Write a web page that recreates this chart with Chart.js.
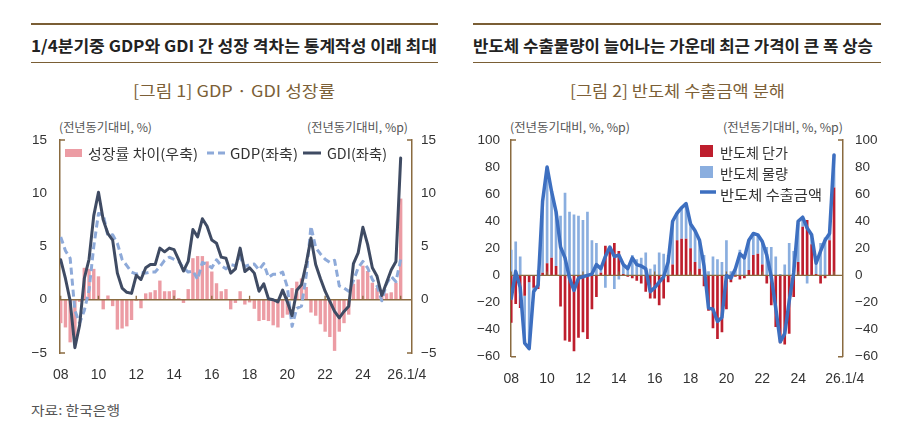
<!DOCTYPE html>
<html><head><meta charset="utf-8">
<script src="https://cdn.jsdelivr.net/npm/chart.js@4.4.1/dist/chart.umd.min.js"></script>
<style>
html,body{margin:0;padding:0;background:#fff;}
body{width:922px;height:444px;position:relative;overflow:hidden;font-family:'Noto Sans CJK KR',sans-serif;}
.t{position:absolute;white-space:nowrap;line-height:1;transform-origin:0 50%;display:inline-block;}
.rule{position:absolute;background:#7a5e35;}
canvas{position:absolute;}
.sw{position:absolute;}
</style></head><body>
<!-- Panel 1 header -->
<div class="rule" style="left:31px;top:23px;width:407px;height:2px"></div>
<div class="t" data-w="406" style="left:31px;top:37px;font-size:16px;font-weight:700;color:#222">1/4분기중 GDP와 GDI 간 성장 격차는 통계작성 이래 최대</div>
<div class="rule" style="left:31px;top:62px;width:407px;height:1px"></div>
<div class="t" data-w="202" style="left:133px;top:82px;font-size:16px;color:#7c5f37">[그림 1] GDP · GDI 성장률</div>
<div class="t" data-w="93" style="left:59px;top:121px;font-size:12px;color:#555">(전년동기대비, %)</div>
<div class="t" data-w="101" style="left:307px;top:121px;font-size:12px;color:#555">(전년동기대비, %p)</div>
<!-- Panel 2 header -->
<div class="rule" style="left:473px;top:23px;width:408px;height:2px"></div>
<div class="t" data-w="400" style="left:473px;top:37px;font-size:16px;font-weight:700;color:#222">반도체 수출물량이 늘어나는 가운데 최근 가격이 큰 폭 상승</div>
<div class="rule" style="left:473px;top:62px;width:408px;height:1px"></div>
<div class="t" data-w="215" style="left:570px;top:82px;font-size:16px;color:#7c5f37">[그림 2] 반도체 수출금액 분해</div>
<div class="t" data-w="120" style="left:510px;top:121px;font-size:12px;color:#555">(전년동기대비, %, %p)</div>
<div class="t" data-w="120" style="left:723px;top:121px;font-size:12px;color:#555">(전년동기대비, %, %p)</div>

<canvas id="c1" width="460" height="300" style="left:0;top:100px;width:460px;height:300px"></canvas>
<canvas id="c2" width="462" height="300" style="left:460px;top:100px;width:462px;height:300px"></canvas>

<!-- Legend 1 -->
<div class="sw" style="left:65px;top:149px;width:17px;height:8px;background:#ec9ca4"></div>
<div class="t" data-w="110" style="left:88px;top:146px;font-size:14px;color:#333">성장률 차이(우축)</div>
<svg class="sw" style="left:206px;top:148px" width="20" height="10"><line x1="1" y1="5" x2="19" y2="5" stroke="#8eaad9" stroke-width="3" stroke-dasharray="7,4"/></svg>
<div class="t" data-w="68" style="left:230px;top:146px;font-size:14px;color:#333">GDP(좌축)</div>
<svg class="sw" style="left:302px;top:148px" width="20" height="10"><line x1="1" y1="5" x2="19" y2="5" stroke="#3f4b63" stroke-width="3"/></svg>
<div class="t" data-w="60" style="left:327px;top:146px;font-size:14px;color:#333">GDI(좌축)</div>
<!-- Legend 2 -->
<div class="sw" style="left:700px;top:145px;width:13px;height:12px;background:#be1e2d"></div>
<div class="t" data-w="68" style="left:720px;top:145px;font-size:14px;color:#333">반도체 단가</div>
<div class="sw" style="left:700px;top:166px;width:13px;height:12px;background:#8aaedf"></div>
<div class="t" data-w="68" style="left:720px;top:166px;font-size:14px;color:#333">반도체 물량</div>
<svg class="sw" style="left:699px;top:187px" width="18" height="10"><line x1="1" y1="5" x2="17" y2="5" stroke="#3d6fc0" stroke-width="3.5"/></svg>
<div class="t" data-w="102" style="left:720px;top:187px;font-size:14px;color:#333">반도체 수출금액</div>

<div class="t" data-w="89" style="left:31px;top:403px;font-size:13px;color:#555">자료: 한국은행</div>

<script>
// ---------- DATA ----------
const categories = [];
for (let y = 2008; y <= 2026; y++) for (let q = 1; q <= 4; q++) { if (y === 2026 && q > 1) break; categories.push(y + 'Q' + q); }

const xTickLabels = ['08','10','12','14','16','18','20','22','24','26.1/4'];
const xTickCats = ['2008Q1','2010Q1','2012Q1','2014Q1','2016Q1','2018Q1','2020Q1','2022Q1','2024Q1','2026Q1'];

// Chart 1: GDP, GDI growth (%, left) and gap (%p, right)
const gdp = [5.9, 4.6, 3.9, -1.0, -2.2, -1.0, 0.9, 5.0, 8.1, 8.0,
             6.0, 6.1, 5.3, 3.8, 3.2, 2.6, 2.4, 2.6, 2.5, 2.6,
             2.6, 3.1, 3.7, 4.0, 3.8, 3.6, 3.0, 2.6, 2.7, 1.9,
             3.5, 3.3, 3.0, 3.75, 3.2, 2.9, 3.3, 3.2, 4.0, 3.1,
             3.3, 3.35, 2.8, 3.4, 2.1, 2.4, 2.4, 2.6, 1.2, -2.5,
             -0.8, -0.6, 2.3, 6.9, 4.9, 4.3, 3.8, 3.5, 3.7, 1.3,
             1.1, 0.8, 1.8, 3.0, 3.6, 3.0, 1.9, 1.3, -0.1, 1.5,
             2.2, 1.7, 3.8];
const gdi = [3.75, 2.0, -0.1, -4.5, -2.4, 2.0, 3.8, 7.9, 10.1, 7.5,
             6.2, 5.6, 2.5, 1.1, 0.7, 0.6, 2.3, 1.9, 3.0, 3.3,
             3.3, 4.85, 4.5, 4.85, 4.7, 3.75, 2.7, 3.6, 6.6, 5.9,
             7.6, 6.9, 5.6, 5.3, 4.0, 3.9, 2.5, 2.9, 4.85, 2.65,
             3.0, 2.5, 0.8, 1.5, 0.1, 0.0, -0.2, 0.9, -0.2, -1.5,
             0.9, 1.4, 3.4, 5.8, 3.3, 2.0, 0.8, -0.15, -1.1, -1.7,
             -1.1, -0.6, 3.4, 4.4, 6.8, 5.2, 3.0, 2.2, 0.4, 1.6,
             2.8, 3.6, 13.3];
const gap = [-2.2, -2.6, -4.0, -3.5, -0.2, 3.0, 2.9, 2.9, 2.2, -0.9,
             0.4, -0.6, -2.8, -2.7, -2.5, -1.9, -0.1, -0.8, 0.6, 0.7,
             0.9, 1.8, 0.8, 0.8, 0.9, 0.15, -0.3, 1.0, 3.9, 4.1,
             4.1, 3.6, 2.65, 1.55, 0.8, 1.0, -0.9, -0.3, 0.8, -0.45,
             -0.25, -0.85, -2.0, -1.9, -2.0, -2.4, -2.6, -1.7, -1.4, 1.1,
             1.7, 2.0, 1.2, -1.2, -1.5, -2.3, -3.0, -3.5, -4.8, -3.0,
             -2.2, -1.4, 1.5, 1.9, 3.2, 2.7, 1.6, 1.1, 0.6, 0.6,
             0.7, 1.6, 9.5];
const yTicks1 = [-5, 0, 5, 10, 15];

// Chart 2: semiconductor exports (%, %p)
const chipPrice = [-35, -21, -24, -15, -5, -9, -10, 2, 9, 13,
                   7, -23, -48, -49, -56, -46, -42, -47, -25, -16,
                   2, 22, 19, 24, 18, 1, -1, -2, -4, -6,
                   -12, -17, -17, -22, -17, -5, 8, 26, 27, 27,
                   20, 10, 5, -8, -26, -39, -47, -42, -25, -5,
                   -1, -3, -2, 4, 15, 16, 8, -6, -22, -38,
                   -50, -51, -43, -16, 10, 36, 41, 23, 1, -6,
                   -2, 26, 65];
const chipVolume = [19, 25, 14, -35, -49, -3, 4, 53, 71, 49,
                    40, 44, 61, 47, 45, 44, 41, 47, 26, 24,
                    3, -9, 2, -10, -3, 7, 6, 15, 12, 13,
                    17, 5, 8, 17, 16, 15, 32, 20, 23, 26,
                    18, 23, 21, 15, 3, 14, 12, 10, 26, 3,
                    6, 19, 15, 22, 16, 14, 17, 21, 21, 14,
                    1, 8, 24, 18, 30, 7, -6, 7, 8, 24,
                    28, 5, 24];
const chipValue = [-17, 3, -9, -50, -54, -12, -7, 55, 80, 62,
                   47, 21, 13, -2, -11, -2, -1, 0, 1, 8,
                   5, 14, 21, 14, 15, 8, 5, 13, 8, 7,
                   5, -12, -9, -5, -1, 10, 40, 46, 50, 53,
                   38, 33, 26, 7, -24, -25, -34, -31, 0, -2,
                   5, 16, 13, 26, 31, 30, 25, 15, -1, -24,
                   -49, -43, -19, 2, 40, 43, 35, 30, 9, 18,
                   26, 31, 89];
const yTicks2 = [-60, -40, -20, 0, 20, 40, 60, 80, 100];

// ---------- STYLE / HELPERS ----------
const AXIS = '#8a6b40';
const TICKFONT = {family: "'Liberation Sans','Noto Sans CJK KR',sans-serif", size: 13.5};
const XFONT = {family: "'Liberation Sans','Noto Sans CJK KR',sans-serif", size: 14};
const fmt = v => (v < 0 ? '\u2212' + Math.abs(v) : '' + v);
const pts = arr => arr.map((v, i) => ({x: i, y: v}));
const xMarks = xTickCats.map(c => categories.indexOf(c));

const decor = {
  id: 'decor',
  afterDatasetDraw(chart, args, opts) {
    if (args.index !== opts.afterIndex) return;
    const {ctx, chartArea: a, scales} = chart;
    const y0 = scales.y.getPixelForValue(0);
    ctx.save();
    ctx.strokeStyle = AXIS; ctx.lineWidth = 1.3;
    ctx.beginPath();
    ctx.moveTo(a.left, y0); ctx.lineTo(a.right, y0);
    xMarks.forEach(v => { const x = scales.x.getPixelForValue(v); ctx.moveTo(x, y0); ctx.lineTo(x, y0 - 4); });
    ctx.stroke();
    ctx.restore();
  },
  afterDraw(chart) {
    const {ctx, chartArea: a} = chart;
    ctx.save();
    ctx.strokeStyle = AXIS; ctx.lineWidth = 1.5;
    ctx.beginPath();
    [a.top, a.bottom].forEach(y => {
      ctx.moveTo(a.left, y); ctx.lineTo(a.left + 5, y);
      ctx.moveTo(a.right, y); ctx.lineTo(a.right - 5, y);
    });
    ctx.stroke();
    ctx.restore();
  }
};

function xScale(min, max, lastShift, pad) {
  return {
    type: 'linear', min, max, offset: false, stacked: true,
    grid: {display: false, drawTicks: false}, border: {display: false},
    afterBuildTicks(s) { s.ticks = xMarks.map((v, k) => ({value: k === xMarks.length - 1 ? v + lastShift : v})); },
    afterFit(s) { s.height = 40; },
    ticks: {autoSkip: false, maxRotation: 0, padding: pad, color: '#333', font: XFONT,
            callback: (v, k) => xTickLabels[k]}
  };
}
function yScale(pos, min, max, ticksArr, width, pad, stacked) {
  return {
    type: 'linear', position: pos, min, max, stacked: !!stacked,
    grid: {display: false, drawTicks: false},
    border: {display: true, color: AXIS, width: 1.5},
    afterBuildTicks(s) { s.ticks = ticksArr.map(v => ({value: v})); },
    afterFit(s) { s.width = width; },
    ticks: {padding: pad, color: '#333', font: TICKFONT, callback: v => fmt(v)}
  };
}

// ---------- CHART 1 ----------
new Chart(document.getElementById('c1'), {
  type: 'bar',
  data: {
    datasets: [
      {type: 'line', label: 'GDI(좌축)', data: pts(gdi), yAxisID: 'y', borderColor: '#3f4b63', borderWidth: 3,
       pointRadius: 0, tension: 0, borderJoinStyle: 'round', borderCapStyle: 'round'},
      {type: 'line', label: 'GDP(좌축)', data: pts(gdp), yAxisID: 'y', borderColor: '#8eaad9', borderWidth: 3,
       borderDash: [7, 4], pointRadius: 0, tension: 0, borderJoinStyle: 'round'},
      {type: 'bar', label: '성장률 차이(우축)', data: pts(gap), yAxisID: 'y2', backgroundColor: '#ec9ca4',
       barPercentage: 0.72, categoryPercentage: 1}
    ]
  },
  options: {
    responsive: false, animation: false, devicePixelRatio: 1,
    layout: {padding: {top: 40, left: 15, right: 8, bottom: 7}},
    plugins: {legend: {display: false}, tooltip: {enabled: false}, decor: {afterIndex: 2}},
    scales: {
      x: xScale(-0.15, 74.4, 1.3, 14),
      y: yScale('left', -5, 15, yTicks1, 45, 13),
      y2: yScale('right', -5, 15, yTicks1, 40, 9)
    }
  },
  plugins: [decor]
});

// ---------- CHART 2 ----------
new Chart(document.getElementById('c2'), {
  type: 'bar',
  data: {
    datasets: [
      {type: 'line', label: '반도체 수출금액', data: pts(chipValue), yAxisID: 'y', borderColor: '#3d6fc0', borderWidth: 3.5,
       pointRadius: 0, tension: 0, borderJoinStyle: 'round', borderCapStyle: 'round'},
      {type: 'bar', label: '반도체 단가', data: pts(chipPrice), yAxisID: 'y2', backgroundColor: '#be1e2d',
       barPercentage: 0.6, categoryPercentage: 1},
      {type: 'bar', label: '반도체 물량', data: pts(chipVolume), yAxisID: 'y2', backgroundColor: '#8aaedf',
       barPercentage: 0.6, categoryPercentage: 1}
    ]
  },
  options: {
    responsive: false, animation: false, devicePixelRatio: 1,
    layout: {padding: {top: 40, left: 11, right: 39, bottom: 3.3}},
    plugins: {legend: {display: false}, tooltip: {enabled: false}, decor: {afterIndex: 1}},
    scales: {
      x: xScale(-0.05, 74.0, 2.4, 14),
      y: yScale('left', -60, 100, yTicks2, 40, 11),
      y2: yScale('right', -60, 100, yTicks2, 40, 12, true)
    }
  },
  plugins: [decor]
});

// ---------- fit text widths ----------
document.querySelectorAll('.t[data-w]').forEach(el => {
  const w = el.getBoundingClientRect().width;
  const target = +el.dataset.w;
  if (w > 0) el.style.transform = 'scaleX(' + (target / w).toFixed(4) + ')';
});
</script>
</body></html>
